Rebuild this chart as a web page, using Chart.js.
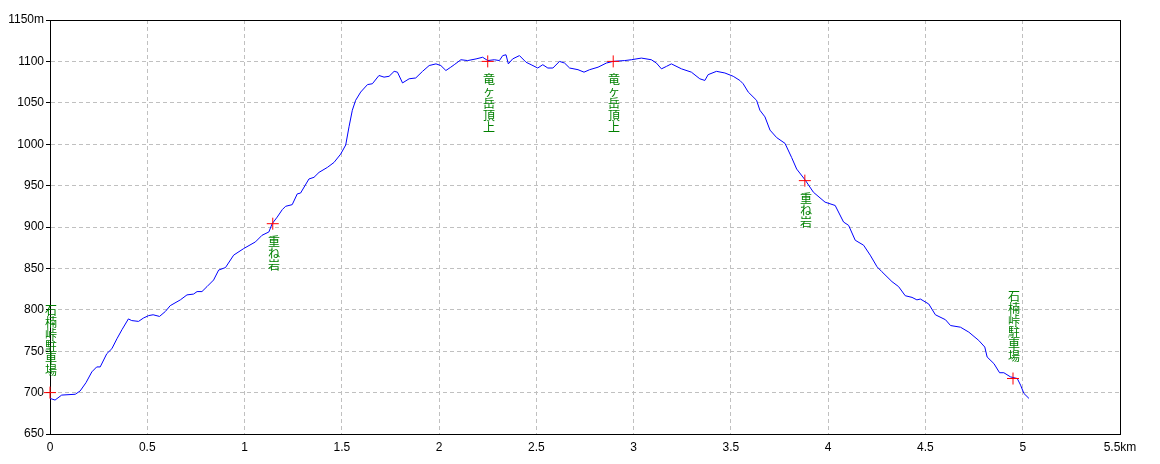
<!DOCTYPE html>
<html><head><meta charset="utf-8">
<script src="https://cdn.jsdelivr.net/npm/chart.js@4.4.0/dist/chart.umd.min.js"></script>
<style>html,body{margin:0;padding:0;background:#fff;}canvas{display:block;}</style>
</head><body>
<canvas id="c" width="1160" height="464"></canvas>
<script>
// ---- data ----
const distanceKm = [0,0.026,0.06,0.13,0.155,0.185,0.215,0.24,0.258,0.292,0.318,0.344,0.37,0.403,0.42,0.455,0.48,0.507,0.53,0.563,0.593,0.618,0.67,0.704,0.738,0.756,0.781,0.807,0.841,0.867,0.902,0.944,0.996,1.056,1.09,1.125,1.142,1.168,1.194,1.211,1.245,1.271,1.288,1.331,1.357,1.383,1.426,1.46,1.494,1.52,1.537,1.554,1.571,1.597,1.632,1.657,1.691,1.717,1.743,1.769,1.786,1.812,1.846,1.88,1.915,1.949,1.984,2.009,2.035,2.06,2.078,2.112,2.147,2.19,2.224,2.25,2.284,2.31,2.327,2.344,2.356,2.378,2.413,2.447,2.473,2.507,2.533,2.559,2.585,2.619,2.645,2.671,2.714,2.745,2.774,2.817,2.86,2.894,2.954,2.988,3.04,3.091,3.117,3.143,3.169,3.194,3.246,3.297,3.34,3.366,3.383,3.426,3.469,3.512,3.546,3.563,3.589,3.632,3.649,3.675,3.701,3.735,3.778,3.812,3.838,3.881,3.924,3.984,4.036,4.079,4.105,4.139,4.182,4.216,4.251,4.276,4.328,4.362,4.396,4.431,4.456,4.474,4.517,4.551,4.603,4.629,4.68,4.723,4.774,4.805,4.817,4.852,4.881,4.903,4.937,4.972,4.989,5.006,5.032];
const elevationM = [693,691,697,698,702,712,725,731,731,747,753,765,776,789,787,786,790,793,794,792,798,805,812,818,819,822,822,828,836,848,851,866,874,882,890,894,904,912,921,925,927,940,941,958,960,966,972,978,988,999,1021,1041,1053,1063,1072,1073,1083,1081,1082,1088,1087,1074,1079,1080,1088,1095,1097,1095,1089,1093,1096,1102,1101,1103,1105,1101,1102,1101,1107,1108,1097,1103,1107,1099,1096,1092,1096,1092,1092,1100,1098,1092,1090,1087,1090,1093,1098,1100,1101,1102,1104,1102,1098,1091,1094,1097,1091,1087,1079,1077,1084,1088,1086,1082,1077,1073,1063,1053,1041,1033,1017,1008,1001,984,970,957,942,930,926,906,902,884,878,866,852,846,834,828,817,815,812,813,807,794,788,781,779,773,763,755,743,735,724,724,719,717,709,699,693];
const waypointNames = ['石楠峠駐車場','重ね岩','竜ヶ岳頂上','竜ヶ岳頂上','重ね岩','石楠峠駐車場'];
const waypointKm = [0,1.145,2.25,2.895,3.88,4.95];
const waypointM = [700,904,1100,1100,956,717];
const xMin = 0, xMax = 5.5, xStep = 0.5, xUnit = 'km';
const yMin = 650, yMax = 1150, yStep = 50, yUnit = 'm';

// ---- chart ----
const tickFont = {family:"'Liberation Sans Narrow','Liberation Sans',sans-serif", size:12};
const alignPx = p => Math.round(p - 0.5) + 0.5;

const framePlugin = {
  id:'frame',
  beforeDatasetsDraw(chart){
    const {ctx, chartArea:a} = chart;
    ctx.save();
    ctx.strokeStyle = '#000'; ctx.lineWidth = 1; ctx.setLineDash([]);
    const L = alignPx(a.left), R = alignPx(a.right), T = alignPx(a.top), B = alignPx(a.bottom);
    ctx.strokeRect(L, T, R - L, B - T);
    ctx.restore();
  },
  afterDatasetsDraw(chart){
    const {ctx} = chart;
    const xs = chart.scales.x, ys = chart.scales.y;
    const n = waypointNames.length;
    ctx.save();
    ctx.fillStyle = '#008000';
    ctx.font = "12px 'Noto Sans CJK JP'";
    ctx.textAlign = 'center';
    ctx.textBaseline = 'top';
    const step = 12;
    waypointNames.forEach((name, i) => {
      const px = Math.round(xs.getPixelForValue(waypointKm[i])) + 1;
      const py = ys.getPixelForValue(waypointM[i]);
      const chars = Array.from(name);
      const above = (i === 0 || i === n - 1);
      let y0 = above ? py - 16 - chars.length * step : py + 12;
      chars.forEach((ch, k) => ctx.fillText(ch, px, y0 + k * step));
    });
    ctx.restore();
  }
};

new Chart(document.getElementById('c'), {
  type:'scatter',
  data:{
    datasets:[
      {
        data: waypointKm.map((x,i)=>({x, y: waypointM[i]})),
        pointStyle:'cross', pointRadius:6, pointHoverRadius:6,
        borderColor:'#ff0000', backgroundColor:'#ff0000', borderWidth:1,
        showLine:false, clip:false
      },
      {
        data: distanceKm.map((x,i)=>({x, y: elevationM[i]})),
        showLine:true, borderColor:'#0000ff', borderWidth:1,
        pointRadius:0, pointHoverRadius:0, tension:0, fill:false
      }
    ]
  },
  options:{
    responsive:false, animation:false, devicePixelRatio:1,
    layout:{padding:{top:20, right:40, left:0, bottom:0}},
    plugins:{legend:{display:false}, tooltip:{enabled:false}},
    events:[],
    scales:{
      x:{
        type:'linear', min:xMin, max:xMax,
        afterFit(s){ s.height = 30; },
        ticks:{stepSize:xStep, color:'#000', font:tickFont, padding:6, maxRotation:0,
          callback:v => (v === xMax ? v + xUnit : String(v))},
        grid:{color:'#c0c0c0', drawTicks:false},
        border:{color:'#000', dash:[4,3]}
      },
      y:{
        type:'linear', min:yMin, max:yMax,
        afterFit(s){ s.width = 50; },
        ticks:{stepSize:yStep, color:'#000', font:tickFont, padding:2,
          callback:v => (v === yMax ? v + yUnit : String(v))},
        grid:{color:'#c0c0c0', tickLength:4, tickColor:'#000'},
        border:{color:'#000', dash:[4,3]}
      }
    }
  },
  plugins:[framePlugin]
});
</script>
</body></html>
